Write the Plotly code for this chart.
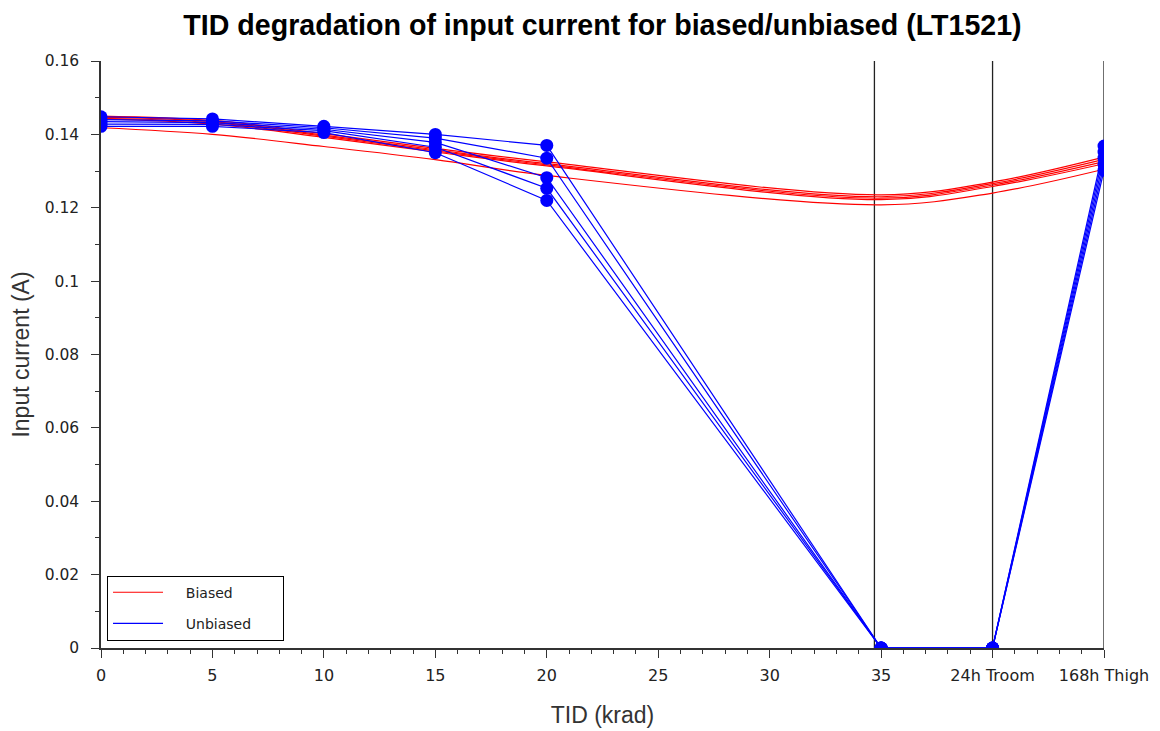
import plotly.graph_objects as go

# ---- data ----
tid_x = [0, 5, 10, 15, 20, 35, 40, 45]
x_tick_vals = [0, 5, 10, 15, 20, 25, 30, 35, 40, 45]
x_tick_text = ["0", "5", "10", "15", "20", "25", "30", "35", "24h Troom", "168h Thigh"]
y_tick_vals = [0, 0.02, 0.04, 0.06, 0.08, 0.1, 0.12, 0.14, 0.16]

biased_1 = [0.1450, 0.1438, 0.1402, 0.1362, 0.1325, 0.1235, 0.1270, 0.1338]
biased_2 = [0.1447, 0.1435, 0.1398, 0.1358, 0.1320, 0.1230, 0.1266, 0.1332]
biased_3 = [0.1444, 0.1432, 0.1395, 0.1355, 0.1317, 0.1226, 0.1262, 0.1326]
biased_4 = [0.1442, 0.1428, 0.1392, 0.1352, 0.1314, 0.1222, 0.1258, 0.1320]
biased_5 = [0.1418, 0.1400, 0.1367, 0.1331, 0.1288, 0.1208, 0.1240, 0.1305]

unbiased_1 = [0.1448, 0.1442, 0.1422, 0.1400, 0.1370, 0.0, 0.0, 0.1368]
unbiased_2 = [0.1440, 0.1437, 0.1418, 0.1390, 0.1335, 0.0, 0.0, 0.1352]
unbiased_3 = [0.1435, 0.1432, 0.1414, 0.1378, 0.1282, 0.0, 0.0, 0.1335]
unbiased_4 = [0.1428, 0.1427, 0.1410, 0.1365, 0.1253, 0.0, 0.0, 0.1318]
unbiased_5 = [0.1422, 0.1422, 0.1405, 0.1350, 0.1220, 0.0, 0.0, 0.1302]

phase_boundaries = [34.7, 40, 45]

biased = [biased_1, biased_2, biased_3, biased_4, biased_5]
unbiased = [unbiased_1, unbiased_2, unbiased_3, unbiased_4, unbiased_5]

NB = "\u00a0"
fig = go.Figure()

for i, ys in enumerate(biased):
    fig.add_trace(go.Scatter(
        x=tid_x, y=ys, mode="lines", name=NB * 4 + "Biased" + NB * 6,
        line=dict(color="#FF0000", width=1.2, shape="spline", smoothing=1.0),
        legendgroup="b", showlegend=(i == 0),
    ))

for i, ys in enumerate(unbiased):
    fig.add_trace(go.Scatter(
        x=tid_x, y=ys, mode="lines", name=NB * 4 + "Unbiased" + NB * 6,
        line=dict(color="#0000FF", width=1.2),
        legendgroup="u", showlegend=(i == 0),
    ))
for i, ys in enumerate(unbiased):
    fig.add_trace(go.Scatter(
        x=tid_x, y=ys, mode="markers", name="Unbiased",
        marker=dict(color="#0000FF", size=13),
        legendgroup="u", showlegend=False,
    ))

for xb in phase_boundaries:
    fig.add_shape(type="line", xref="x", yref="y", x0=xb, x1=xb, y0=0, y1=0.16,
                  line=dict(color="#222222", width=1.3), layer="below")

axis_common = dict(
    showgrid=False, zeroline=False, showline=True, linecolor="#333333", linewidth=1.5,
    ticks="outside", ticklen=8, tickwidth=1.3, tickcolor="#333333", automargin=False,
    layer="below traces",
)

W, H = 1152, 723
fig.update_layout(
    width=W, height=H,
    margin=dict(l=93, r=56, t=53, b=83, autoexpand=False),
    paper_bgcolor="white", plot_bgcolor="white",
    title=dict(text="TID degradation of input current for biased/unbiased (LT1521)",
               x=0.5, xref="paper", y=1 - 16.5 / H, yref="container", yanchor="middle",
               font=dict(family="Liberation Sans, Arial", size=28.6, color="#000000", weight="bold")),
    xaxis=dict(range=[0, 45], tickvals=x_tick_vals, ticktext=x_tick_text,
               ticklabelstandoff=4,
               tickfont=dict(family="DejaVu Sans", size=16, color="#222222"),
               minor=dict(dtick=1, tick0=0, ticks="outside", ticklen=4, tickwidth=1.2, tickcolor="#333333"),
               title=dict(text="TID (krad)", standoff=23,
                          font=dict(family="Liberation Sans, Arial", size=23, color="#333333")),
               **axis_common),
    yaxis=dict(range=[0, 0.16], tickvals=y_tick_vals,
               ticklabelstandoff=9,
               tickfont=dict(family="DejaVu Sans", size=15.5, color="#222222"),
               minor=dict(dtick=0.01, tick0=0, ticks="outside", ticklen=4, tickwidth=1.2, tickcolor="#333333"),
               title=dict(text="Input current (A)", standoff=9,
                          font=dict(family="Liberation Sans, Arial", size=23, color="#333333")),
               **axis_common),
    legend=dict(x=0.006, y=0.0125, xanchor="left", yanchor="bottom",
                bgcolor="white", bordercolor="#000000", borderwidth=1,
                font=dict(family="DejaVu Sans", size=14, color="#222222"),
                itemwidth=50, tracegroupgap=10),
    showlegend=True,
)

fig.write_html("out.html")
